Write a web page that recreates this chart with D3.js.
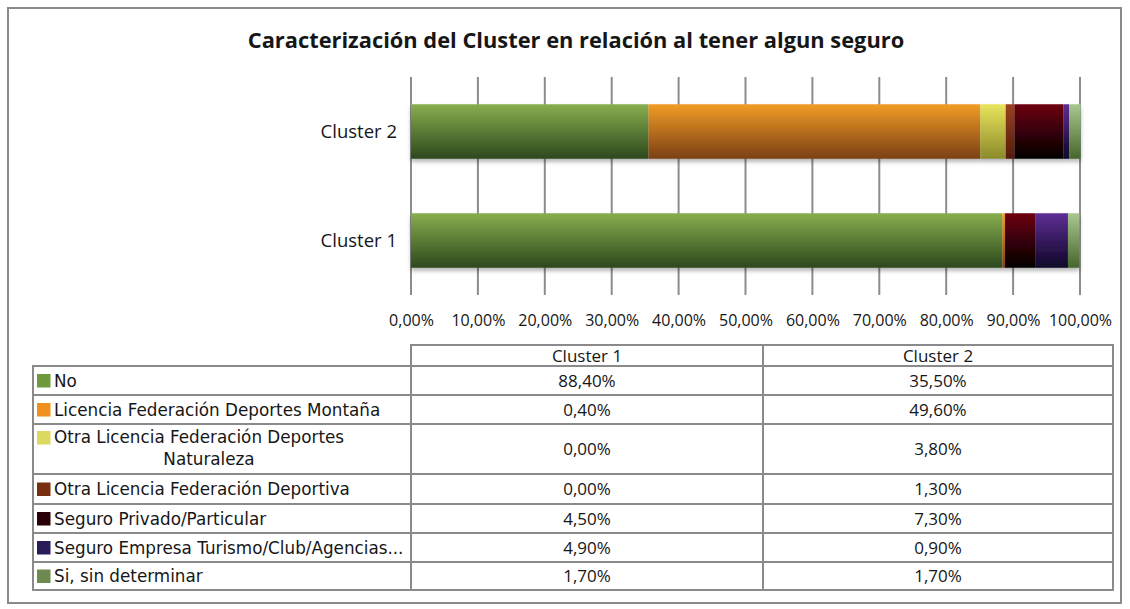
<!DOCTYPE html>
<html><head><meta charset="utf-8">
<script src="https://cdn.jsdelivr.net/npm/d3@7"></script>
<style>body{margin:0;background:#fff}svg{display:block}</style>
</head><body><svg id="c" width="1130" height="609"></svg>
<script>
const title = "Caracterización del Cluster en relación al tener algun seguro";
const clusters = ["Cluster 1", "Cluster 2"];
const barOrder = ["Cluster 2", "Cluster 1"];
const seriesNames = ["No", "Licencia Federación Deportes Montaña", "Otra Licencia Federación Deportes Naturaleza", "Otra Licencia Federación Deportiva", "Seguro Privado/Particular", "Seguro Empresa Turismo/Club/Agencias...", "Si, sin determinar"];
const cluster1Values = [88.4, 0.4, 0.0, 0.0, 4.5, 4.9, 1.7];
const cluster2Values = [35.5, 49.6, 3.8, 1.3, 7.3, 0.9, 1.7];
const xTicks = [0, 10, 20, 30, 40, 50, 60, 70, 80, 90, 100];
const swatchColors = ["#6e9a3c", "#f0901e", "#dcd860", "#7a2e10", "#2a0008", "#2a1a5a", "#6e8a50"];
const gradTop = ["#87ae4e", "#f29c26", "#e8e45c", "#9a4222", "#6e0012", "#5e2e94", "#a9c891"];
const gradBot = ["#2d481d", "#7a4014", "#8c8a2a", "#561c08", "#000000", "#0e0628", "#46662c"];

const svg = d3.select("#c");
const fmt = v => d3.format(".2f")(v).replace(".", ",") + "%";
const sans = "'Open Sans', sans-serif";
const ff = "'DejaVu Sans', sans-serif";
const ink = "#161616";

const defs = svg.append("defs");
seriesNames.forEach((s, i) => {
  const g = defs.append("linearGradient").attr("id", "g" + i).attr("x1", 0).attr("y1", 0).attr("x2", 0).attr("y2", 1);
  g.append("stop").attr("offset", "0%").attr("stop-color", gradTop[i]);
  g.append("stop").attr("offset", "100%").attr("stop-color", gradBot[i]);
});
const f = defs.append("filter").attr("id", "sh").attr("x", "-5%").attr("y", "-20%").attr("width", "110%").attr("height", "150%");
f.append("feDropShadow").attr("dx", 0).attr("dy", 3).attr("stdDeviation", 2).attr("flood-color", "#000").attr("flood-opacity", 0.3);

// frame
svg.append("rect").attr("x", 8).attr("y", 8).attr("width", 1113).attr("height", 595)
  .attr("fill", "none").attr("stroke", "#8a8a8a").attr("stroke-width", 2);

// title
const t = svg.append("text").attr("x", 576).attr("y", 48).attr("text-anchor", "middle")
  .attr("font-family", sans).attr("font-weight", "bold").attr("font-size", 19)
  .attr("fill", ink).text(title);
{
  const w = t.node().getComputedTextLength();
  t.attr("font-size", 19 * 657 / w);
}

const x = d3.scaleLinear().domain([0, 100]).range([411, 1080]);
const y = d3.scaleBand().domain(barOrder).range([77, 295]).paddingInner(0.5).paddingOuter(0.25);

// gridlines
svg.append("g").selectAll("line").data(xTicks).join("line")
  .attr("x1", d => x(d)).attr("x2", d => x(d)).attr("y1", 77).attr("y2", 295)
  .attr("stroke", "#8c8c8c").attr("stroke-width", 2);

// bars
const valuesBy = {"Cluster 1": cluster1Values, "Cluster 2": cluster2Values};
const rows = barOrder.map(c => {
  const o = {cluster: c};
  seriesNames.forEach((s, i) => o[s] = valuesBy[c][i]);
  return o;
});
const stack = d3.stack().keys(seriesNames)(rows);
const bg = svg.append("g").attr("filter", "url(#sh)");
stack.forEach((layer, i) => {
  bg.selectAll(null).data(layer).join("rect")
    .attr("x", d => x(d[0])).attr("width", d => Math.max(0, x(d[1]) - x(d[0])))
    .attr("y", d => y(d.data.cluster)).attr("height", y.bandwidth())
    .attr("fill", `url(#g${i})`);
});

// category labels
svg.append("g").selectAll("text").data(barOrder).join("text")
  .attr("x", 397).attr("y", d => y(d) + y.bandwidth() / 2 + 6.5).attr("text-anchor", "end")
  .attr("font-family", sans).attr("font-size", 18.5).attr("fill", ink)
  .text(d => d);

// x axis
const ax = svg.append("g").attr("transform", "translate(0,312)")
  .call(d3.axisBottom(x).tickValues(xTicks).tickSize(0).tickFormat(fmt));
ax.select(".domain").remove();
ax.selectAll("text").attr("font-family", sans).attr("font-size", 16).attr("fill", ink);

// data table
const colX = [33, 411, 763, 1113];
const rowY = [366, 395, 424, 474, 504, 533, 562, 590];
const tg = svg.append("g");
const lineC = "#8a8a8a";
tg.append("rect").attr("x", colX[1]).attr("y", 345).attr("width", colX[3] - colX[1]).attr("height", rowY[0] - 345)
  .attr("fill", "none").attr("stroke", lineC).attr("stroke-width", 2);
tg.append("line").attr("x1", colX[2]).attr("x2", colX[2]).attr("y1", 345).attr("y2", rowY[7]).attr("stroke", lineC).attr("stroke-width", 2);
tg.append("rect").attr("x", colX[0]).attr("y", rowY[0]).attr("width", colX[3] - colX[0]).attr("height", rowY[7] - rowY[0])
  .attr("fill", "none").attr("stroke", lineC).attr("stroke-width", 2);
tg.append("line").attr("x1", colX[1]).attr("x2", colX[1]).attr("y1", 345).attr("y2", rowY[7]).attr("stroke", lineC).attr("stroke-width", 2);
rowY.slice(1, 7).forEach(yy => tg.append("line").attr("x1", colX[0]).attr("x2", colX[3]).attr("y1", yy).attr("y2", yy).attr("stroke", lineC).attr("stroke-width", 2));

clusters.forEach((c, j) => {
  tg.append("text").attr("x", (colX[j + 1] + colX[j + 2]) / 2).attr("y", 362).attr("text-anchor", "middle")
    .attr("font-family", sans).attr("font-size", 17).attr("fill", ink).text(c);
});
const legFs = 16.8;
seriesNames.forEach((s, i) => {
  const top = rowY[i], bot = rowY[i + 1], mid = (top + bot) / 2;
  tg.append("rect").attr("x", 37).attr("y", (i === 2 ? top + 7 : mid - 6.5)).attr("width", 13.5).attr("height", 13.5).attr("fill", swatchColors[i]);
  if (i === 2) {
    tg.append("text").attr("x", 54).attr("y", top + 19).attr("font-family", ff).attr("font-size", legFs).attr("fill", ink).text("Otra Licencia Federación Deportes");
    tg.append("text").attr("x", 209).attr("y", top + 41).attr("text-anchor", "middle").attr("font-family", ff).attr("font-size", legFs).attr("fill", ink).text("Naturaleza");
  } else {
    tg.append("text").attr("x", 54).attr("y", mid + 6).attr("font-family", ff).attr("font-size", legFs).attr("fill", ink).text(s);
  }
  [cluster1Values[i], cluster2Values[i]].forEach((v, j) => {
    tg.append("text").attr("x", (colX[j + 1] + colX[j + 2]) / 2).attr("y", mid + 6).attr("text-anchor", "middle")
      .attr("font-family", sans).attr("font-size", 17).attr("fill", ink).text(fmt(v));
  });
});
</script></body></html>
